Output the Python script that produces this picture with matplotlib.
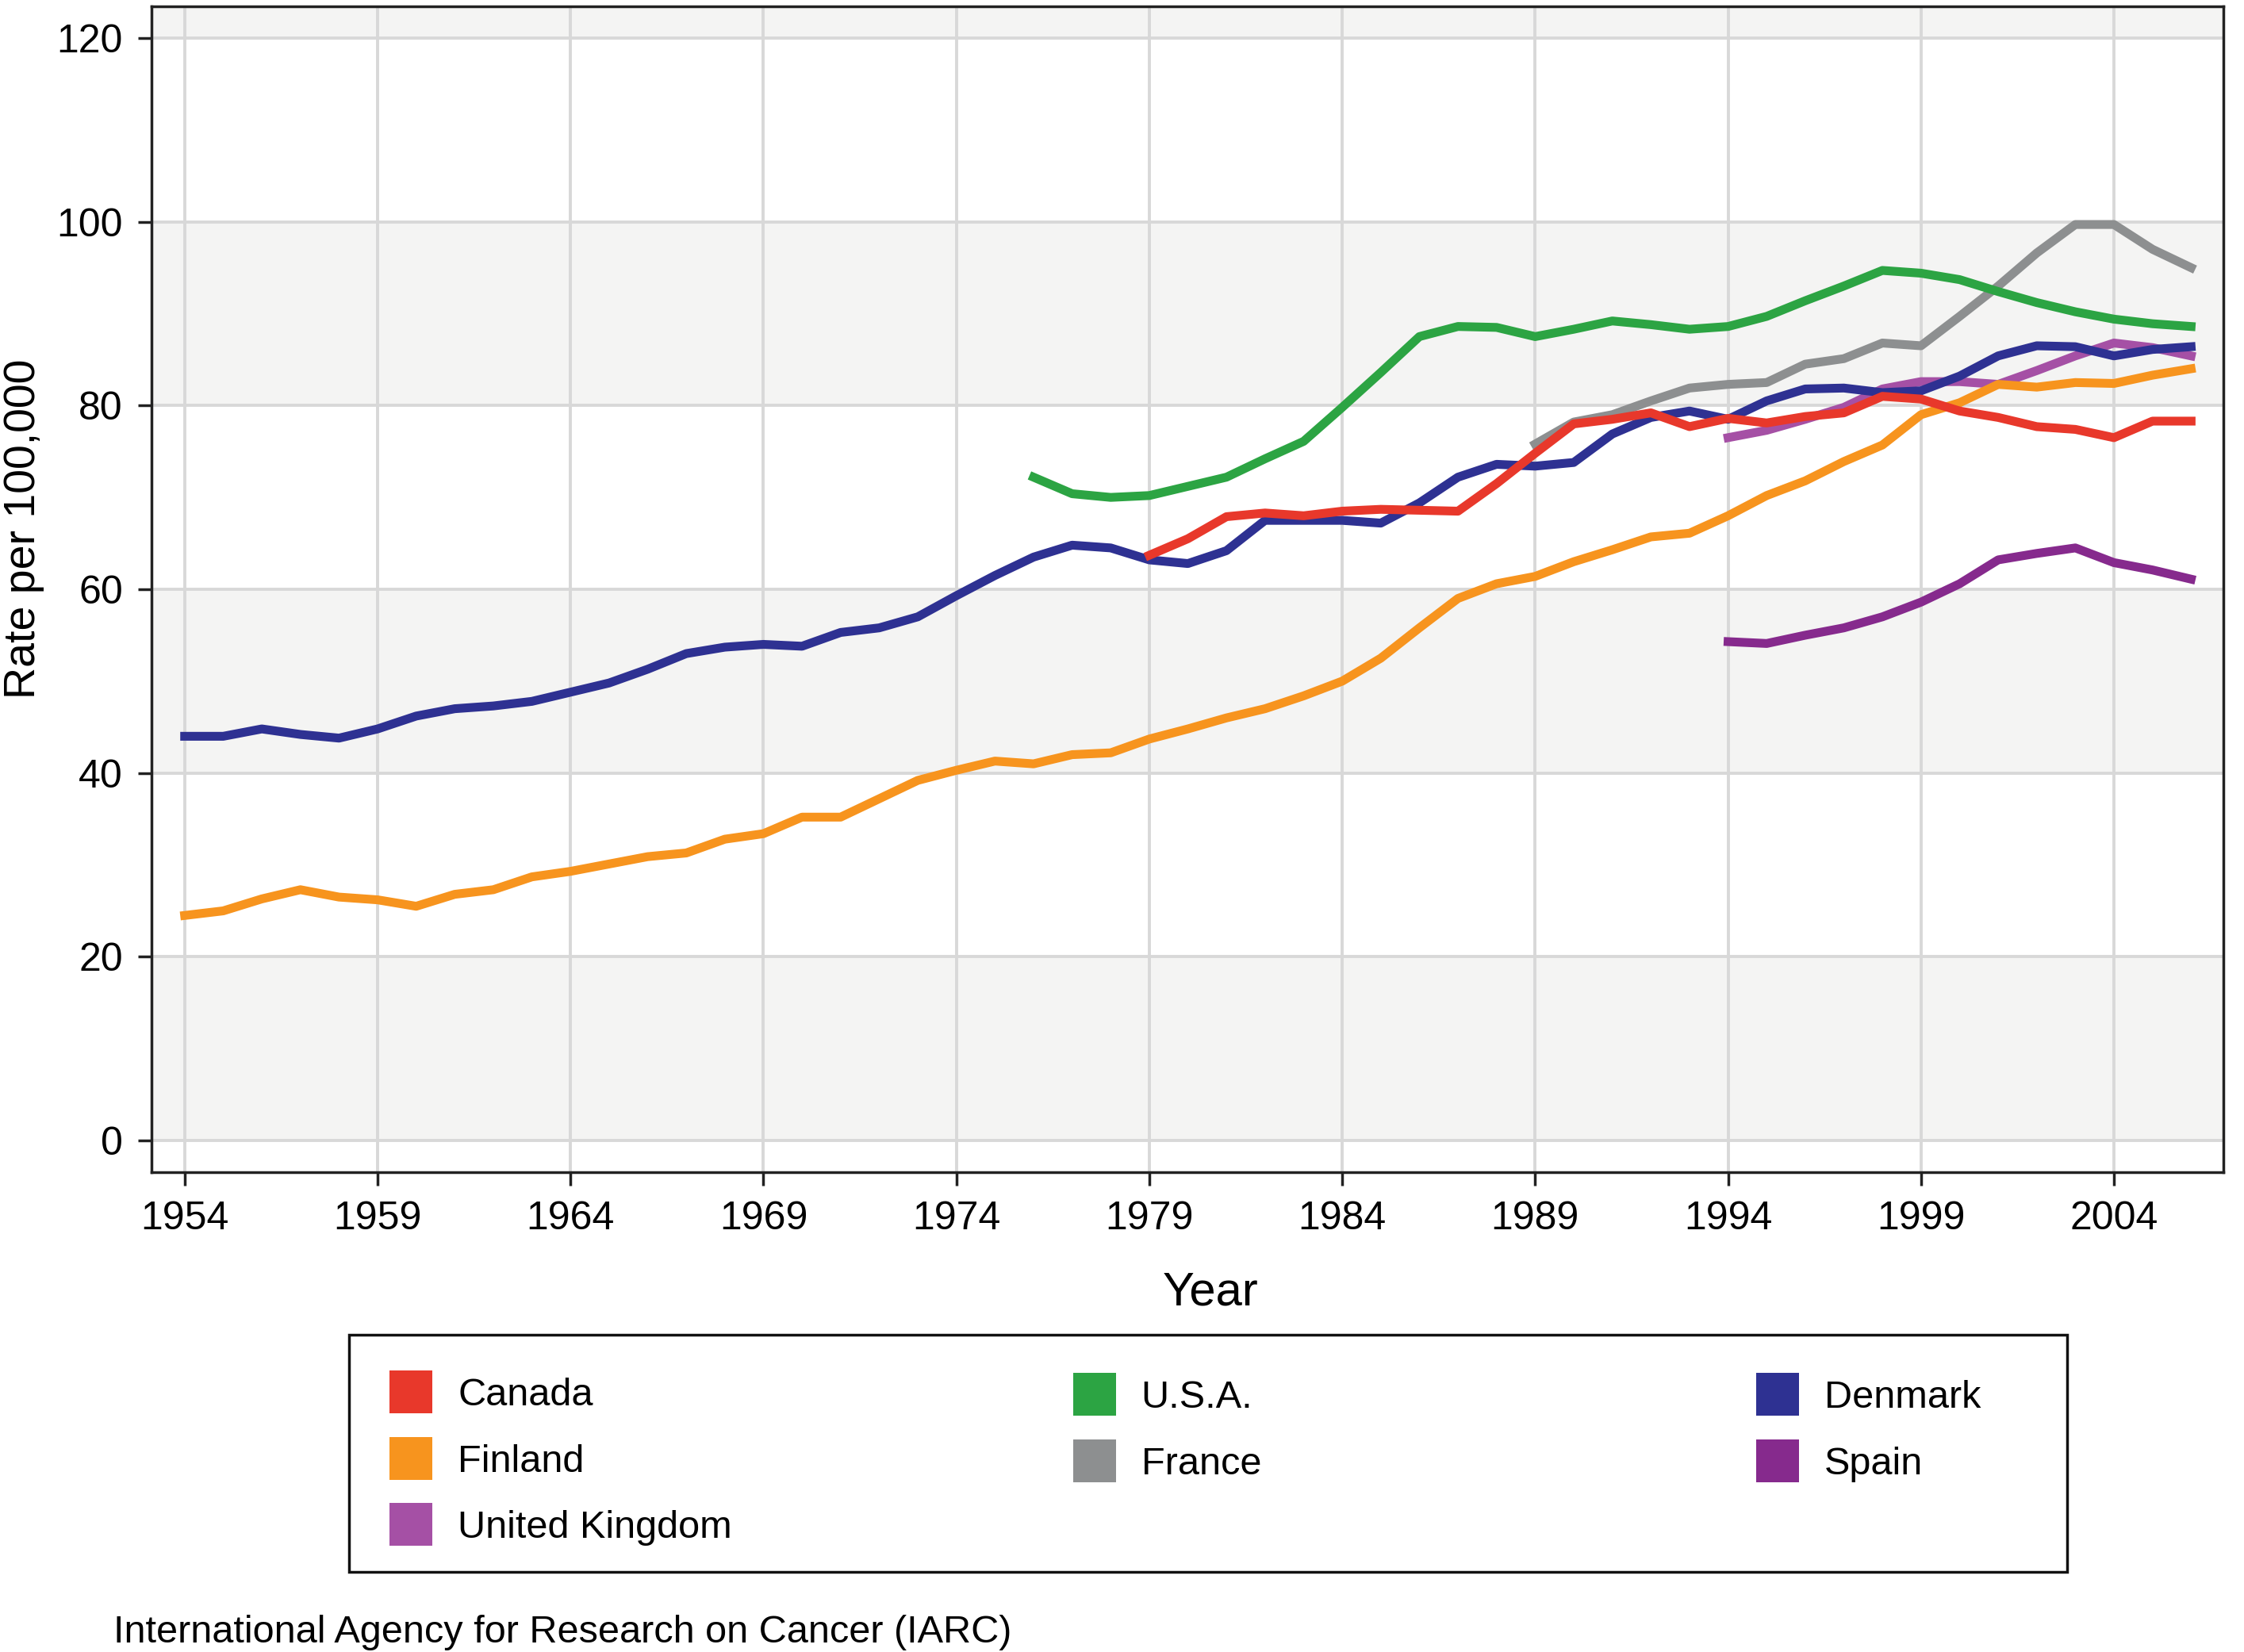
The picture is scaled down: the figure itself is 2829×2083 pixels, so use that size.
import numpy as np
import matplotlib
matplotlib.use('Agg')
import matplotlib.pyplot as plt
from matplotlib.lines import Line2D
from matplotlib.patches import Rectangle

plt.rcParams['font.family'] = ['Liberation Sans', 'DejaVu Sans']

# rates per 100,000
years_dk = list(range(1954, 2007))
denmark = [44.0, 44.0, 44.8, 44.2, 43.8, 44.8, 46.2, 47.0, 47.3, 47.8,
           48.8, 49.8, 51.3, 53.0, 53.7, 54.0, 53.8, 55.3, 55.8, 57.0,
           59.3, 61.5, 63.5, 64.8, 64.5, 63.2, 62.8, 64.2, 67.5, 67.5,
           67.5, 67.2, 69.4, 72.2, 73.6, 73.4, 73.8, 76.9, 78.7, 79.4,
           78.5, 80.5, 81.8, 81.9, 81.4, 81.6, 83.2, 85.4, 86.5, 86.4,
           85.4, 86.1, 86.4]
finland = [24.5, 25.0, 26.3, 27.3, 26.5, 26.2, 25.5, 26.8, 27.3, 28.7,
           29.3, 30.1, 30.9, 31.3, 32.8, 33.4, 35.2, 35.2, 37.2, 39.2,
           40.3, 41.3, 41.0, 42.0, 42.2, 43.7, 44.8, 46.0, 47.0, 48.4,
           50.0, 52.5, 55.8, 59.0, 60.6, 61.4, 63.0, 64.3, 65.7, 66.1,
           68.0, 70.2, 71.8, 73.9, 75.7, 79.0, 80.3, 82.3, 82.0, 82.5,
           82.4, 83.3, 84.0]
years_us = list(range(1976, 2007))
usa = [72.2, 70.4, 70.0, 70.2, 71.2, 72.2, 74.2, 76.1, 79.8, 83.6,
       87.5, 88.6, 88.5, 87.5, 88.3, 89.2, 88.8, 88.3, 88.6, 89.7,
       91.4, 93.0, 94.7, 94.4, 93.7, 92.4, 91.2, 90.2, 89.4, 88.9,
       88.6]
years_ca = list(range(1979, 2007))
canada = [63.7, 65.5, 67.9, 68.3, 68.0, 68.5, 68.7, 68.6, 68.5, 71.5,
          74.8, 78.0, 78.5, 79.2, 77.7, 78.6, 78.1, 78.8, 79.2, 81.0,
          80.7, 79.4, 78.7, 77.7, 77.4, 76.5, 78.3, 78.3]
years_fr = list(range(1989, 2007))
france = [75.8, 78.2, 79.0, 80.5, 81.9, 82.3, 82.5, 84.5, 85.1, 86.8,
          86.5, 89.7, 93.0, 96.6, 99.7, 99.7, 97.0, 95.0]
years_uk = list(range(1994, 2007))
uk = [76.5, 77.3, 78.5, 79.8, 81.8, 82.6, 82.6, 82.3, 83.8, 85.4,
      86.8, 86.3, 85.4]
spain = [54.3, 54.1, 55.0, 55.8, 57.0, 58.6, 60.6, 63.2, 63.9, 64.5,
         62.9, 62.1, 61.1]

colors = {'Canada': '#e8382b', 'Finland': '#f7941e', 'United Kingdom': '#a550a5',
          'U.S.A.': '#2ca443', 'France': '#8d8f90', 'Denmark': '#2e3192',
          'Spain': '#862a8d'}

fig = plt.figure(figsize=(28.29, 20.83), dpi=100)
ax = fig.add_axes([0.0675, 0.2904, 0.9232, 0.7058])

# alternating grey bands
for lo in [0, 40, 80, 120]:
    ax.axhspan(lo, lo + 20, color='#f4f4f3', zorder=0, lw=0)

lw = 8
ax.plot(years_fr, france, color=colors['France'], lw=lw, zorder=3)
ax.plot(years_uk, uk, color=colors['United Kingdom'], lw=lw, zorder=3)
ax.plot(years_uk, spain, color=colors['Spain'], lw=lw, zorder=3)
ax.plot(years_dk, finland, color=colors['Finland'], lw=lw, zorder=3)
ax.plot(years_dk, denmark, color=colors['Denmark'], lw=lw, zorder=3)
ax.plot(years_us, usa, color=colors['U.S.A.'], lw=lw, zorder=3)
ax.plot(years_ca, canada, color=colors['Canada'], lw=lw, zorder=3)

ax.set_xlim(1953.14, 2006.83)
ax.set_ylim(-3.45, 123.45)
ax.set_xticks(range(1954, 2005, 5))
ax.set_yticks(range(0, 121, 20))
ax.grid(True, color='#d8d8d8', lw=2.8, zorder=1)
ax.set_axisbelow(True)
ax.tick_params(labelsize=36, length=12, width=2.5, pad=14, color='#222222')
for s in ax.spines.values():
    s.set_linewidth(2.5)
    s.set_color('#222222')

fig.text(0.0106, 0.680, 'Rate per 100,000', rotation=90, ha='center',
         va='center', fontsize=40)
fig.text(0.5394, 0.2175, 'Year', ha='center', va='center', fontsize=43)

# legend box with three fixed-width columns
fig.add_artist(Rectangle((0.1555, 0.0485), 0.7655, 0.1435, transform=fig.transFigure,
                         fill=False, lw=2.5, edgecolor='#111111'))
columns = [(['Canada', 'Finland', 'United Kingdom'], 0.1736, 0.1152),
           (['U.S.A.', 'France'], 0.4781, 0.1338),
           (['Denmark', 'Spain'], 0.7826, 0.1338)]
for names, x, y in columns:
    handles = [Line2D([], [], ls='none', marker='s', markersize=39,
                      markerfacecolor=colors[n], markeredgewidth=0) for n in names]
    leg = fig.legend(handles, names, loc='center left', bbox_to_anchor=(x, y),
                     frameon=False, fontsize=35, borderpad=0, borderaxespad=0,
                     handlelength=1.11, handletextpad=0.66, labelspacing=0.8)

fig.text(0.0507, 0.0058, 'International Agency for Research on Cancer (IARC)',
         fontsize=35, va='baseline')

fig.savefig('out.png', dpi=100)
